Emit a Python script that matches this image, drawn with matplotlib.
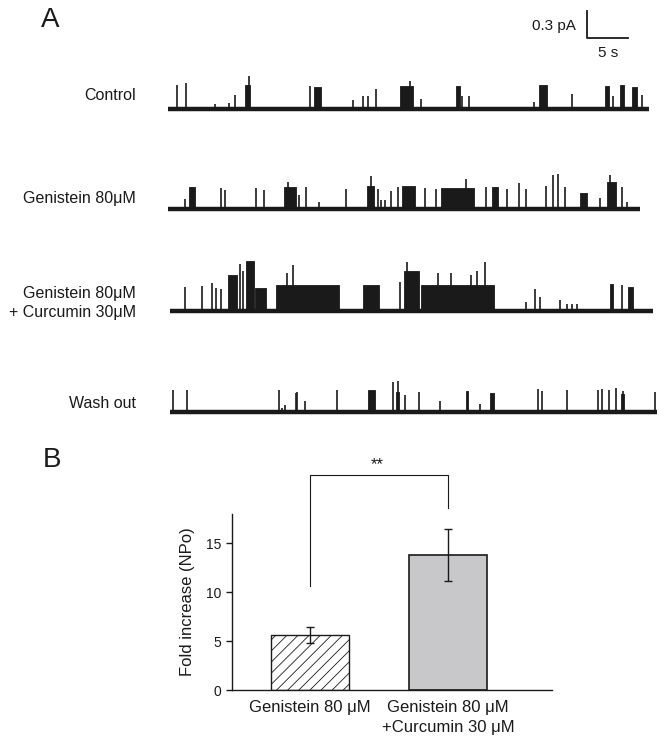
"""Single-channel traces (A) and fold increase in NPo (B)."""

import matplotlib

matplotlib.use("Agg")
import matplotlib.pyplot as plt

plt.rcParams["font.family"] = ["Liberation Sans", "DejaVu Sans"]
plt.rcParams["hatch.linewidth"] = 0.6

# ---------------------------------------------------------------------------
# Data
# ---------------------------------------------------------------------------

# Panel A: recording windows (s) and openings.
# spikes = brief openings (time s, amplitude pA); bursts = (start s, end s, level pA)
TRACE_NAMES = ["Control", "Genistein 80\u03bcM",
               "Genistein 80\u03bcM\n+ Curcumin 30\u03bcM", "Wash out"]
TRACE_SPANS = [(0.0, 58.6), (0.0, 57.55), (0.2, 59.2), (0.2, 59.6)]

CONTROL_SPIKES = [(1.13, 0.27), (2.15, 0.29), (5.7, 0.06), (7.4, 0.07), (8.15, 0.16),
                  (9.88, 0.37), (17.3, 0.25), (22.5, 0.10), (23.8, 0.15), (24.4, 0.15),
                  (25.4, 0.22), (29.5, 0.31), (30.8, 0.11), (35.9, 0.15), (36.65, 0.15),
                  (44.6, 0.08), (49.3, 0.17), (54.3, 0.15), (57.8, 0.16)]
CONTROL_BURSTS = [(9.35, 10.05, 0.27), (17.75, 18.67, 0.24), (28.3, 29.9, 0.26),
                  (35.15, 35.6, 0.26), (45.2, 46.2, 0.27), (53.3, 53.8, 0.26),
                  (55.1, 55.6, 0.27), (56.55, 57.15, 0.25)]

GEN_SPIKES = [(2.06, 0.11), (6.45, 0.23), (7.0, 0.21), (10.7, 0.23), (11.7, 0.21),
              (14.65, 0.30), (15.95, 0.16), (16.85, 0.25), (18.4, 0.08), (21.7, 0.22),
              (24.75, 0.37), (25.55, 0.22), (26.0, 0.10), (26.5, 0.10), (27.2, 0.20),
              (28.0, 0.24), (31.35, 0.23), (32.65, 0.22), (36.3, 0.33), (38.8, 0.25),
              (41.35, 0.22), (42.8, 0.29), (43.6, 0.22), (46.1, 0.26), (46.9, 0.38),
              (47.55, 0.39), (48.45, 0.24), (52.7, 0.12), (53.9, 0.38), (55.35, 0.25),
              (56.0, 0.08)]
GEN_BURSTS = [(2.6, 3.3, 0.24), (14.2, 15.65, 0.25), (24.25, 25.15, 0.26),
              (28.5, 30.15, 0.26), (33.25, 37.3, 0.23), (39.55, 40.25, 0.25),
              (50.3, 51.1, 0.18), (53.5, 54.6, 0.30)]

CUR_SPIKES = [(2.06, 0.27), (4.1, 0.28), (5.4, 0.31), (5.8, 0.26), (6.5, 0.25),
              (8.75, 0.52), (9.15, 0.45), (14.55, 0.42), (15.25, 0.51), (28.3, 0.32),
              (29.2, 0.55), (32.95, 0.42), (34.5, 0.42), (36.9, 0.40), (37.7, 0.45),
              (38.65, 0.55), (43.6, 0.10), (44.7, 0.24), (45.4, 0.16), (47.8, 0.12),
              (48.6, 0.08), (49.3, 0.08), (49.9, 0.08), (55.35, 0.29)]
CUR_BURSTS = [(7.35, 8.45, 0.40), (9.5, 10.45, 0.56), (10.55, 12.0, 0.26),
              (13.2, 20.9, 0.29), (23.8, 25.75, 0.29), (28.8, 30.6, 0.45),
              (30.85, 39.75, 0.29), (53.9, 54.3, 0.30), (56.05, 56.65, 0.27)]

WASH_SPIKES = [(0.56, 0.25), (2.27, 0.25), (13.5, 0.25), (13.9, 0.05), (14.3, 0.08),
               (15.55, 0.21), (15.75, 0.22), (16.75, 0.12), (20.6, 0.25), (27.4, 0.33),
               (28.0, 0.34), (28.9, 0.19), (30.55, 0.22), (33.2, 0.12), (38.1, 0.09),
               (45.1, 0.26), (45.6, 0.23), (48.65, 0.24), (52.4, 0.25), (52.9, 0.26),
               (53.8, 0.25), (54.6, 0.27), (55.45, 0.23), (59.4, 0.22)]
WASH_BURSTS = [(24.45, 25.25, 0.24), (27.8, 28.2, 0.22), (36.3, 36.6, 0.23),
               (39.25, 39.75, 0.21), (55.3, 55.6, 0.20)]

TRACE_SPIKES = [CONTROL_SPIKES, GEN_SPIKES, CUR_SPIKES, WASH_SPIKES]
TRACE_BURSTS = [CONTROL_BURSTS, GEN_BURSTS, CUR_BURSTS, WASH_BURSTS]

# Panel B: fold increase in NPo (mean +/- error)
BAR_LABELS = ["Genistein 80 \u03bcM", "Genistein 80 \u03bcM\n+Curcumin 30 \u03bcM"]
BAR_MEANS = [5.6, 13.8]
BAR_ERRS = [0.8, 2.65]

# ---------------------------------------------------------------------------
# Layout (pixels of a 668 x 749 canvas)
# ---------------------------------------------------------------------------
W, H = 668, 749
PX_PER_S = 8.2
PX_PER_PA = 90.0
TRACE_BASE_PX = [109, 209, 311, 412]
LABEL_Y_PX = [96, 198, 303, 403]
INK = "#1a1a1a"

fig = plt.figure(figsize=(W / 100, H / 100), dpi=100)

# ----- panel A -----
axA = fig.add_axes([168 / W, 1 - 440 / H, 500 / W, 440 / H])
axA.set_xlim(0, 500 / PX_PER_S)
axA.set_ylim(-440 / PX_PER_PA, 0)
axA.axis("off")

for i in range(4):
    base = -TRACE_BASE_PX[i] / PX_PER_PA
    t0, t1 = TRACE_SPANS[i]
    axA.plot([t0, t1], [base, base], color=INK, lw=3.2, solid_capstyle="butt")
    for b0, b1, lvl in TRACE_BURSTS[i]:
        axA.fill_between([b0, b1], [base, base], [base + lvl, base + lvl],
                         color=INK, lw=0.6)
    ts = [s[0] for s in TRACE_SPIKES[i]]
    tops = [base + s[1] for s in TRACE_SPIKES[i]]
    axA.vlines(ts, base, tops, color=INK, lw=1.2)
    fig.text(136 / W, 1 - LABEL_Y_PX[i] / H, TRACE_NAMES[i], ha="right",
             va="center", fontsize=11.5, color=INK, linespacing=1.3)

# scale bar
sb_t = (587 - 168) / PX_PER_S
sb_y = -38 / PX_PER_PA
axA.plot([sb_t, sb_t, sb_t + 5], [sb_y + 0.3, sb_y, sb_y], color=INK, lw=1.3,
         clip_on=False)
fig.text(576 / W, 1 - 26 / H, "0.3 pA", ha="right", va="center", fontsize=11,
         color=INK)
fig.text(608 / W, 1 - 53 / H, "5 s", ha="center", va="center", fontsize=11,
         color=INK)

fig.text(50 / W, 1 - 20 / H, "A", ha="center", va="center", fontsize=20, color=INK)
fig.text(52 / W, 1 - 460 / H, "B", ha="center", va="center", fontsize=20, color=INK)

# ----- panel B -----
axB = fig.add_axes([232 / W, 1 - 690 / H, 320 / W, 176 / H])
xs = [0, 1]
axB.bar(xs[0], BAR_MEANS[0], width=0.56, facecolor="white", edgecolor=INK,
        hatch="///", lw=1.0)
axB.bar(xs[1], BAR_MEANS[1], width=0.56, facecolor="#c8c8ca", edgecolor=INK, lw=1.2)
axB.errorbar(xs, BAR_MEANS, yerr=BAR_ERRS, fmt="none", ecolor=INK, elinewidth=1.0,
             capsize=3, capthick=1.0)
axB.set_xlim(-0.565, 1.754)
axB.set_ylim(0, 18)
axB.set_yticks([0, 5, 10, 15])
axB.set_xticks(xs, BAR_LABELS)
axB.tick_params(axis="x", length=0, pad=7, labelsize=12, colors=INK)
axB.tick_params(axis="y", length=4, width=1.0, labelsize=10, colors=INK)
for lab in axB.get_xticklabels():
    lab.set_linespacing(1.4)
axB.spines[["top", "right"]].set_visible(False)
for s in ("left", "bottom"):
    axB.spines[s].set_linewidth(1.0)
    axB.spines[s].set_color(INK)
axB.set_ylabel("Fold increase (NPo)", fontsize=12, color=INK, labelpad=8)

# significance bracket
axB.plot([xs[0], xs[0], xs[1], xs[1]], [10.6, 22.0, 22.0, 18.6], color=INK,
         lw=0.8, clip_on=False)
axB.text(0.49, 22.3, "**", ha="center", va="bottom", fontsize=12, color=INK)

fig.savefig("out.png", dpi=100)
